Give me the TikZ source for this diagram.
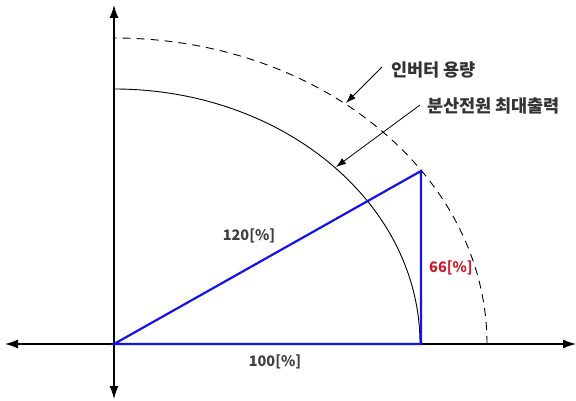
\documentclass[tikz,border=0pt]{standalone}
\usepackage{fontspec}
\setmainfont{Noto Sans CJK KR}
\newfontfamily\kr{Noto Sans CJK KR}
\usetikzlibrary{arrows.meta}
\begin{document}
\begin{tikzpicture}[x=1pt,y=-1pt,
  axis/.style={line width=1.2pt,-{Latex[length=13pt,width=9pt]}},
  leader/.style={line width=0.8pt,-{Latex[length=10pt,width=7pt]}},
  arcline/.style={line width=0.9pt},
  tri/.style={line width=2.2pt,draw={rgb,255:red,20;green,20;blue,230},line join=miter},
  lbl/.style={font=\kr\bfseries\fontsize{14.5pt}{16pt}\selectfont,text=black!75,inner sep=0pt},
  klbl/.style={font=\kr\bfseries\fontsize{17.5pt}{19pt}\selectfont,text=black!80,inner sep=0pt,anchor=west}]
\useasboundingbox (0,0) rectangle (576,401);
\coordinate (O) at (114,344);
\coordinate (xr) at (576,344);
\coordinate (xl) at (5,344);
\coordinate (yt) at (114,5);
\coordinate (yb) at (114,399);
\draw[axis] (O) -- (xr);
\draw[axis] (O) -- (xl);
\draw[axis] (O) -- (yt);
\draw[axis] (O) -- (yb);
% arcs
\draw[arcline,dashed,dash pattern=on 8pt off 6pt] (487,344) arc[start angle=0,end angle=-90,x radius=373,y radius=306];
\draw[arcline] (420,344) arc[start angle=0,end angle=-90,x radius=306,y radius=255];
% triangle
\coordinate (A) at (421,344);
\coordinate (B) at (421,171);
\draw[tri] (O) -- (A) -- (B) -- cycle;
% labels
\node[lbl] (l120) at (249,236) {120[\%]};
\node[lbl,text={rgb,255:red,200;green,30;blue,40}] (l66) at (451,268) {66[\%]};
\node[lbl] (l100) at (275,362) {100[\%]};
\node[klbl] (inv) at (391,70) {인버터 용량};
\node[klbl] (dg) at (427,106) {분산전원 최대출력};
\coordinate (t1) at (346,103);
\coordinate (t2) at (336,167);
\draw[leader] ([xshift=-9pt,yshift=3pt]inv.west) -- (t1);
\draw[leader] ([xshift=-7pt,yshift=1pt]dg.west) -- (t2);
\end{tikzpicture}
\end{document}
